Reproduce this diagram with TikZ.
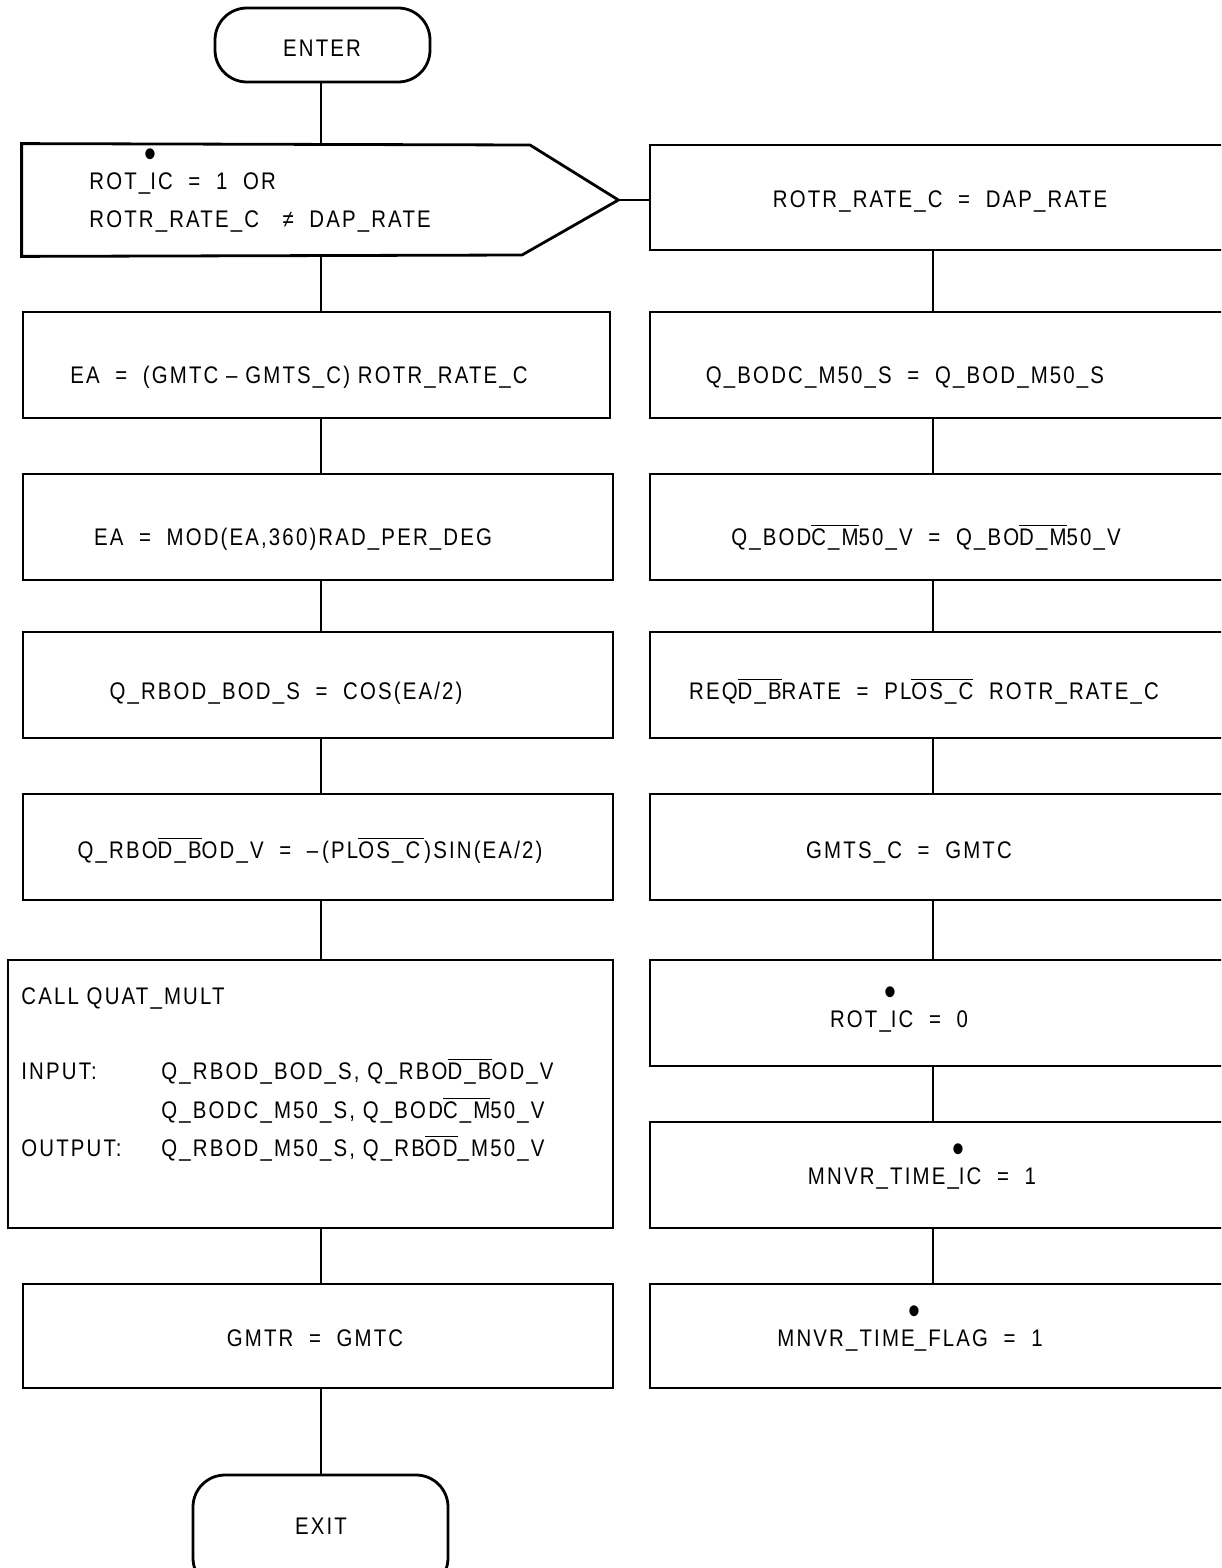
\documentclass[tikz,border=0pt]{standalone}
\usepackage{fontspec}
\setmainfont{Liberation Sans}[FakeStretch=0.85, LetterSpace=9]
\usetikzlibrary{fit}
\newcommand\ovl[1]{\ensuremath{\overline{\mbox{#1}}}}
\newcommand\ndot{\makebox[0pt]{\raisebox{11pt}{\fontsize{20}{20}\selectfont •}}}
\begin{document}
\begin{tikzpicture}[x=0.5pt,y=-0.5pt,line width=1.4pt,
  boxst/.style={draw,rectangle,inner sep=0pt},
  term/.style={draw,rectangle,rounded corners=16pt,inner sep=0pt},
  ghost/.style={rectangle,inner sep=0pt},
  txt/.style={inner sep=0pt,font=\fontsize{12}{14}\selectfont,anchor=base},
  ltxt/.style={txt,anchor=base west},
  link/.style={line width=1.4pt}]
\useasboundingbox (0,0) rectangle (1221,1568);
\clip (0,0) rectangle (1221,1568);
\coordinate (lx) at (321,0);
\coordinate (rx) at (933,0);
% terminators
\node[term,fit={(215,8)(430,82)}] (enter) {};
\node[term,fit={(193,1475)(448,1590)}] (exit) {};
% decision
\node[ghost,fit={(23,145)(617,255)}] (dec) {};
\draw (dec.north west) -- (530,145) -- (dec.east) -- (522,255) -- (dec.south west) -- cycle;
% left boxes
\node[boxst,fit={(23,312)(610,418)}] (ea1) {};
\node[boxst,fit={(23,474)(613,580)}] (ea2) {};
\node[boxst,fit={(23,632)(613,738)}] (qs) {};
\node[boxst,fit={(23,794)(613,900)}] (qv) {};
\node[boxst,fit={(8,960)(613,1228)}] (call) {};
\node[boxst,fit={(23,1284)(613,1388)}] (gmtr) {};
% right boxes
\node[boxst,fit={(650,145)(1240,250)}] (r1) {};
\node[boxst,fit={(650,312)(1240,418)}] (r2) {};
\node[boxst,fit={(650,474)(1240,580)}] (r3) {};
\node[boxst,fit={(650,632)(1240,738)}] (r4) {};
\node[boxst,fit={(650,794)(1240,900)}] (r5) {};
\node[boxst,fit={(650,960)(1240,1066)}] (r6) {};
\node[boxst,fit={(650,1122)(1240,1228)}] (r7) {};
\node[boxst,fit={(650,1284)(1240,1388)}] (r8) {};
% texts
\node[txt] (tenter) at (322,57) {ENTER};
\node[txt] (texit) at (321,1534) {EXIT};
\node[ltxt] (tdec1) at (88,189) {ROT\_\ndot IC\ \ =\ \ 1\ \ OR};
\node[ltxt] (tdec2) at (88,227) {ROTR\_RATE\_C\ \ \ ≠\ \ DAP\_RATE};
\node[txt] (tr1) at (940,207) {ROTR\_RATE\_C\ \ =\ \ DAP\_RATE};
\node[txt] (tea1) at (299,383) {EA\ \ =\ \ (GMTC – GMTS\_C) ROTR\_RATE\_C};
\node[txt] (tea2) at (293,545) {EA\ \ =\ \ MOD(EA,360)RAD\_PER\_DEG};
\node[txt] (tqs) at (286,699) {Q\_RBOD\_BOD\_S\ \ =\ \ COS(EA/2)};
\node[txt] (tqv) at (310,858) {Q\_RBO\ovl{D\_B}OD\_V\ \ =\ \ –\,(PL\ovl{OS\_C\,})SIN(EA/2)};
\node[txt] (tr2) at (905,383) {Q\_BODC\_M50\_S\ \ =\ \ Q\_BOD\_M50\_S};
\node[txt] (tr3) at (926,545) {Q\_BOD\ovl{C\_M}50\_V\ \ =\ \ Q\_BO\ovl{D\_M}50\_V};
\node[txt] (tr4) at (924,699) {REQ\ovl{D\_B}RATE\ \ =\ \ PL\ovl{OS\_C}\ \ ROTR\_RATE\_C};
\node[txt] (tr5) at (909,858) {GMTS\_C\ \ =\ \ GMTC};
\node[txt] (tr6) at (899,1027) {ROT\_\ndot IC\ \ =\ \ 0};
\node[txt] (tr7) at (922,1184) {MNVR\_TIME\_\ndot IC\ \ =\ \ 1};
\node[txt] (tr8) at (910,1346) {MNVR\_TIME\ndot\_FLAG\ \ =\ \ 1};
\node[txt] (tgmtr) at (315,1346) {GMTR\ \ =\ \ GMTC};
\node[ltxt] (tc1) at (20,1004) {CALL QUAT\_MULT};
\node[ltxt] (tc2) at (20,1079) {INPUT:};
\node[ltxt] (tc3) at (160,1079) {Q\_RBOD\_BOD\_S, Q\_RBO\ovl{D\_B}OD\_V};
\node[ltxt] (tc4) at (160,1118) {Q\_BODC\_M50\_S, Q\_BOD\ovl{C\_M}50\_V};
\node[ltxt] (tc5) at (20,1156) {OUTPUT:};
\node[ltxt] (tc6) at (160,1156) {Q\_RBOD\_M50\_S, Q\_RB\ovl{OD}\_M50\_V};
% connectors
\draw[link] (enter.south -| lx) -- (dec.north -| lx);
\draw[link] (dec.south -| lx) -- (ea1.north -| lx);
\draw[link] (ea1.south -| lx) -- (ea2.north -| lx);
\draw[link] (ea2.south -| lx) -- (qs.north -| lx);
\draw[link] (qs.south -| lx) -- (qv.north -| lx);
\draw[link] (qv.south -| lx) -- (call.north -| lx);
\draw[link] (call.south -| lx) -- (gmtr.north -| lx);
\draw[link] (gmtr.south -| lx) -- (exit.north -| lx);
\draw[link] (dec.east) -- (r1.west |- dec.east);
\draw[link] (r1.south -| rx) -- (r2.north -| rx);
\draw[link] (r2.south -| rx) -- (r3.north -| rx);
\draw[link] (r3.south -| rx) -- (r4.north -| rx);
\draw[link] (r4.south -| rx) -- (r5.north -| rx);
\draw[link] (r5.south -| rx) -- (r6.north -| rx);
\draw[link] (r6.south -| rx) -- (r7.north -| rx);
\draw[link] (r7.south -| rx) -- (r8.north -| rx);
\end{tikzpicture}
\end{document}
